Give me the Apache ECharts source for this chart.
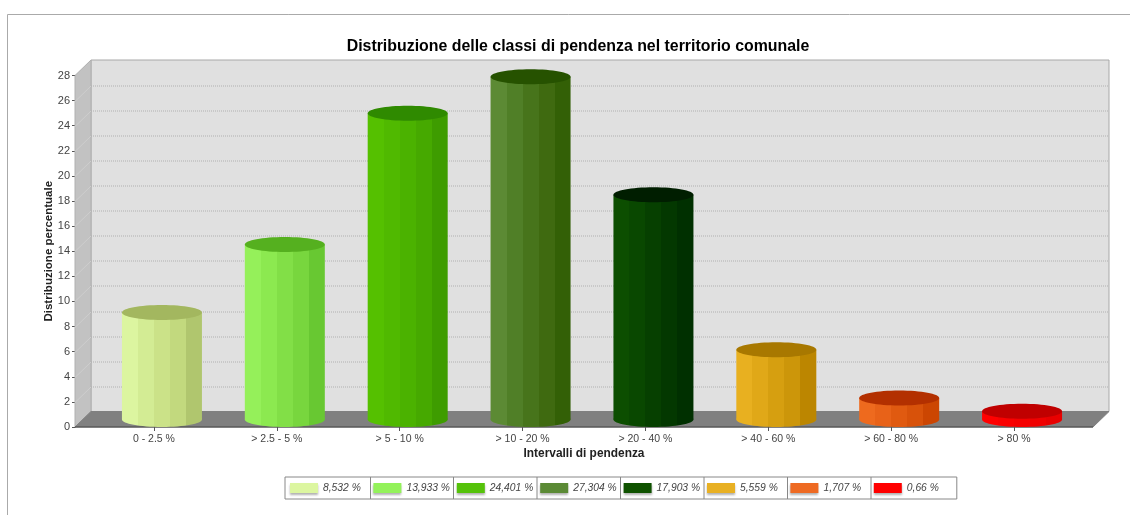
<!DOCTYPE html>
<html><head><meta charset="utf-8">
<style>html,body{margin:0;padding:0;background:#fff}#c{width:1130px;height:515px}</style>
<script src="https://cdn.jsdelivr.net/npm/echarts@6/dist/echarts.min.js"></script>
</head><body><div id="c"></div>
<script>
const categories = ['0 - 2.5 %','> 2.5 - 5 %','> 5 - 10 %','> 10 - 20 %','> 20 - 40 %','> 40 - 60 %','> 60 - 80 %','> 80 %'];
const values = [8.532,13.933,24.401,27.304,17.903,5.559,1.707,0.66];
const legendLabels = ['8,532 %','13,933 %','24,401 %','27,304 %','17,903 %','5,559 %','1,707 %','0,66 %'];
const legendColors = ['#dcf6a0','#93f25a','#55c20a','#5b8a35','#0f5200','#e8b023','#ee6a22','#ff0000'];
const sideStrips = [
  ['#dcf5a0','#d3ec94','#cbe288','#c2d97e','#b0c66e'],
  ['#95f05a','#8ce950','#82df47','#78d63e','#68c832'],
  ['#55c000','#50b900','#4bb200','#46a900','#3e9c00'],
  ['#5c8a34','#507f27','#47741b','#3f6a10','#336006'],
  ['#0c4e00','#094800','#064000','#033800','#003000'],
  ['#e8b020','#e0a818','#d69f10','#cc960a','#bc8600'],
  ['#ee6a1e','#e86218','#e05a10','#d8520a','#cc4602'],
  ['#ff0000','#fa0000','#f50000','#f00000','#e80000']
];
const topColors = ['#a3b75f','#55b01f','#2f8a00','#265200','#001e00','#a87800','#b33000','#c00000'];
const yTicks = [0,2,4,6,8,10,12,14,16,18,20,22,24,26,28];

const DEPTH_X = 16, DEPTH_Y = 15.5, CYL_W = 80, CYL_H = 15;

function strips(list){
  const stops = [], n = list.length;
  list.forEach((c,i)=>{ stops.push({offset:i/n,color:c}); stops.push({offset:(i+1)/n,color:c}); });
  return {type:'linear',x:0,y:0,x2:1,y2:0,colorStops:stops};
}
function renderWalls(params, api){
  const r = params.coordSys;
  const y0 = api.coord([0,0])[1], yTop = api.coord([0,28])[1];
  const xl = r.x-17.5, xr = r.x+r.width+17.5;
  const kids = [];
  const poly = (pts,fill,stroke)=>({type:'polygon',shape:{points:pts},style:{fill:fill,stroke:stroke||null,lineWidth:1}});
  kids.push(poly([[xl+DEPTH_X,yTop-DEPTH_Y],[xr+DEPTH_X,yTop-DEPTH_Y],[xr+DEPTH_X,y0-DEPTH_Y],[xl+DEPTH_X,y0-DEPTH_Y]],'#e0e0e0','#a8a8a8'));
  kids.push(poly([[xl,yTop],[xl+DEPTH_X,yTop-DEPTH_Y],[xl+DEPTH_X,y0-DEPTH_Y],[xl,y0]],'#c2c2c2','#b0b0b0'));
  kids.push(poly([[xl+DEPTH_X,y0-DEPTH_Y],[xr+DEPTH_X,y0-DEPTH_Y],[xr,y0],[xl,y0]],'#808080','#808080'));
  yTicks.forEach(t=>{
    if(t===0||t===28) return;
    const y = Math.round(api.coord([0,t])[1])+0.5;
    kids.push({type:'line',shape:{x1:xl,y1:y,x2:xl+DEPTH_X,y2:y-DEPTH_Y},style:{stroke:'#cecece',lineWidth:1}});
    kids.push({type:'line',shape:{x1:xl+DEPTH_X,y1:y-DEPTH_Y,x2:xr+DEPTH_X,y2:y-DEPTH_Y},style:{stroke:'#b0b0b0',lineWidth:1,lineDash:[1,1]}});
  });
  kids.push({type:'line',shape:{x1:xl,y1:y0,x2:xr,y2:y0},style:{stroke:'#444',lineWidth:1.2}});
  return {type:'group',children:kids};
}
function renderCyl(i){
  return function(params, api){
    const p = api.coord([api.value(0),api.value(1)]);
    const base = api.coord([api.value(0),0]);
    const cx = p[0]+DEPTH_X/2, top = p[1]-CYL_H/2, bot = base[1]-CYL_H/2;
    const fill = strips(sideStrips[i]);
    return {type:'group',children:[
      {type:'ellipse',shape:{cx:cx,cy:bot,rx:CYL_W/2,ry:CYL_H/2},style:{fill:fill}},
      {type:'rect',shape:{x:cx-CYL_W/2,y:top,width:CYL_W,height:bot-top},style:{fill:fill}},
      {type:'ellipse',shape:{cx:cx,cy:top,rx:CYL_W/2,ry:CYL_H/2},style:{fill:topColors[i]}}
    ]};
  };
}
const cylSeries = categories.map((c,i)=>({
  type:'custom',name:legendLabels[i],coordinateSystem:'cartesian2d',z:3,clip:false,silent:true,
  itemStyle:{color:legendColors[i]},encode:{x:0,y:1},
  data:[[c,values[i]]],renderItem:renderCyl(i)
}));
const cellX = [370.5,453.5,537,620.5,704,787.5,871];
const option = {
  animation:false,backgroundColor:'#fff',
  textStyle:{fontFamily:'"Liberation Sans",Arial,sans-serif'},
  title:{text:'Distribuzione delle classi di pendenza nel territorio comunale',left:573,top:34,textAlign:'center',
    textStyle:{fontSize:15.9,fontWeight:'bold',color:'#000',fontFamily:'"Liberation Sans",Arial,sans-serif'}},
  grid:{left:92.5,top:75.5,width:983,height:351.5},
  xAxis:{type:'category',data:categories,name:'Intervalli di pendenza',nameLocation:'middle',nameGap:21,nameMoveOverlap:false,
    nameTextStyle:{fontSize:11.9,fontWeight:'bold',color:'#222'},
    axisLine:{show:false},axisTick:{show:true,alignWithLabel:true,length:4,lineStyle:{color:'#555'}},
    axisLabel:{fontSize:10.5,color:'#444',margin:7},splitLine:{show:false}},
  yAxis:{type:'value',min:0,max:28,interval:2,offset:17.5,name:'Distribuzione percentuale',nameLocation:'middle',nameGap:20,nameMoveOverlap:false,
    nameTextStyle:{fontSize:11.5,fontWeight:'bold',color:'#222'},
    axisLine:{show:true,lineStyle:{color:'#555'}},axisTick:{show:true,length:3,lineStyle:{color:'#555'}},
    axisLabel:{fontSize:11,color:'#444',margin:5},splitLine:{show:false}},
  legend:{data:legendLabels,left:285,top:477,orient:'horizontal',width:720,itemWidth:28,itemHeight:10,itemGap:5.4,
    padding:[5,5,5,5],borderColor:'#888',borderWidth:1,icon:'rect',selectedMode:false,
    itemStyle:{shadowColor:'rgba(0,0,0,0.3)',shadowBlur:2,shadowOffsetY:2},
    formatter:n=>'{t|'+n+'}',
    textStyle:{rich:{t:{width:45,height:12,lineHeight:12,fontSize:10.3,fontStyle:'italic',color:'#444'}}}},
  graphic:[
    {type:'polyline',shape:{points:[[7.5,515],[7.5,14.5],[1130,14.5]]},style:{stroke:'#aaa',fill:null,lineWidth:1},silent:true}
  ].concat(cellX.map(x=>({type:'line',shape:{x1:x,y1:477,x2:x,y2:499},style:{stroke:'#888',lineWidth:1},silent:true}))),
  series:[{type:'custom',name:'walls',coordinateSystem:'cartesian2d',z:1,clip:false,silent:true,data:[[categories[0],0]],encode:{x:0,y:1},renderItem:renderWalls}].concat(cylSeries)
};
echarts.init(document.getElementById('c'),null,{renderer:'canvas'}).setOption(option);
</script></body></html>
